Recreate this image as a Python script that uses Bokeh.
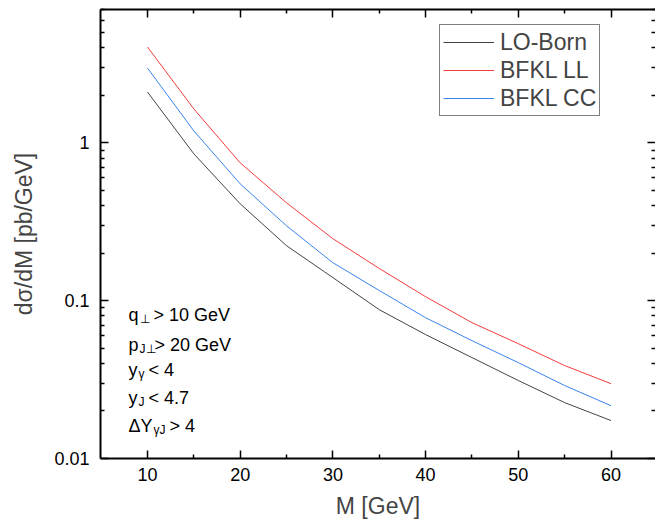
from bokeh.plotting import figure
from bokeh.models import (Range1d, FixedTicker, LinearAxis, LogAxis, Label,
                          CustomJSTickFormatter, ColumnDataSource)
from bokeh.embed import file_html
from bokeh.resources import INLINE

# ---- data ----
M = [10, 15, 20, 25, 30, 35, 40, 45, 50, 55, 60]
lo_born = [2.10, 0.852, 0.411, 0.223, 0.140, 0.0877, 0.061, 0.0436, 0.0312, 0.0226, 0.0174]
bfkl_ll = [4.05, 1.64, 0.747, 0.417, 0.247, 0.160, 0.106, 0.0726, 0.0534, 0.0388, 0.0298]
bfkl_cc = [2.98, 1.19, 0.550, 0.298, 0.174, 0.116, 0.078, 0.0558, 0.0405, 0.029, 0.0216]

x_major = [10, 20, 30, 40, 50, 60]
x_minor = [15, 25, 35, 45, 55]
y_major = [0.01, 0.1, 1]
y_minor = [k * d for d in (0.01, 0.1, 1) for k in range(2, 10)]

FONT = "Liberation Sans"

p = figure(width=655, height=521, y_axis_type="log",
           x_range=Range1d(4.93, 64.8), y_range=Range1d(0.01, 7),
           output_backend="svg", toolbar_location=None,
           min_border_left=100, min_border_right=0, min_border_top=9,
           min_border_bottom=63)
p.outline_line_color = None
p.xgrid.visible = False
p.ygrid.visible = False

src = ColumnDataSource(dict(M=M, lo=lo_born, ll=bfkl_ll, cc=bfkl_cc))
p.line("M", "lo", source=src, color="#444444", line_width=1, legend_label="LO-Born")
p.line("M", "ll", source=src, color="#f23c3c", line_width=1, legend_label="BFKL LL")
p.line("M", "cc", source=src, color="#3a84ec", line_width=1, legend_label="BFKL CC")

xt = FixedTicker(ticks=x_major, minor_ticks=x_minor)
yt = FixedTicker(ticks=y_major, minor_ticks=y_minor)
yfmt = CustomJSTickFormatter(code="return parseFloat(tick.toPrecision(4)).toString()")

def style(ax, labels=True):
    ax.axis_line_width = 2
    ax.axis_line_color = "black"
    ax.major_tick_in = 8
    ax.major_tick_out = 0
    ax.minor_tick_in = 4
    ax.minor_tick_out = 0
    ax.major_tick_line_width = 1.5
    ax.minor_tick_line_width = 1.5
    ax.major_label_text_font = FONT
    ax.major_label_text_color = "black"
    ax.major_label_text_font_size = "18px"
    if not labels:
        ax.major_label_text_color = None
        ax.major_label_text_alpha = 0
        ax.major_label_text_font_size = "1px"
        ax.major_label_standoff = 0

xa = p.xaxis[0]
xa.ticker = xt
style(xa)
xa.major_label_standoff = 9
xa.axis_label = "M [GeV]"
xa.axis_label_text_font = FONT
xa.axis_label_text_font_size = "23px"
xa.axis_label_text_font_style = "normal"
xa.axis_label_standoff = 9

ya = p.yaxis[0]
ya.ticker = yt
ya.formatter = yfmt
style(ya)
ya.major_label_standoff = 11
ya.axis_label = "dσ/dM [pb/GeV]"
ya.axis_label_text_font = FONT
ya.axis_label_text_font_size = "23px"
ya.axis_label_text_font_style = "normal"
ya.axis_label_standoff = 14

top = LinearAxis(ticker=FixedTicker(ticks=x_major, minor_ticks=x_minor))
style(top, labels=False)
p.add_layout(top, "above")

right = LogAxis(ticker=FixedTicker(ticks=y_major, minor_ticks=y_minor))
style(right, labels=False)
right.axis_line_color = None
p.add_layout(right, "right")

# legend
lg = p.legend[0]
lg.location = (339, 342)
lg.border_line_color = "black"
lg.border_line_width = 1
lg.background_fill_alpha = 1
lg.label_text_font = FONT
lg.label_text_font_size = "23px"
lg.glyph_width = 51
lg.glyph_height = 28
lg.label_height = 28
lg.label_width = 96
lg.label_standoff = 6
lg.padding = 3
lg.spacing = 0
lg.margin = 0

# cut annotations: (text, x px from frame left, y px from frame bottom, size)
R, D = 8, 1
pieces = [
    ("q", 27, 136, 18), ("⊥", 38, 132, 12), ("> 10 GeV", 52, 136, 18),
    ("p", 27, 106, 18), ("J⊥", 38, 102, 12), ("> 20 GeV", 53, 106, 18),
    ("y", 27, 81, 18), ("γ", 37, 77, 12), ("< 4", 47, 81, 18),
    ("y", 27, 53, 18), ("J", 37, 49, 12), ("< 4.7", 47, 53, 18),
    ("ΔY", 27, 25, 18), ("γJ", 52, 21, 12), ("> 4", 68, 25, 18),
]
for t, sx, sy, fs in pieces:
    p.add_layout(Label(x=sx + D, y=sy + R, x_units="screen", y_units="screen", text=t,
                       text_font=FONT, text_font_size=f"{fs}px",
                       text_baseline="alphabetic", text_color="black"))

open("out.html", "w").write(file_html(p, INLINE))
